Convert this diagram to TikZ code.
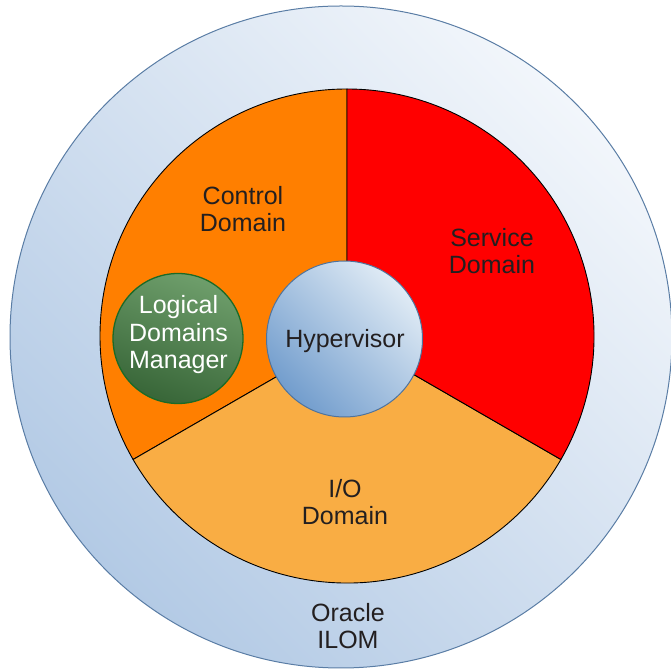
\documentclass[tikz,border=0pt]{standalone}
\usepackage{fontspec}
\setmainfont{Liberation Sans}
\begin{document}
\begin{tikzpicture}[x=1pt,y=1pt,
  label text/.style={text=textGray, align=center, font=\fontsize{25}{27.5}\selectfont, inner sep=0pt},
  sector/.style={draw=black, line width=0.9pt, line join=round}]
\definecolor{outerLight}{HTML}{F2F6FB}
\definecolor{outerDark}{HTML}{B3CAE5}
\definecolor{outerEdge}{HTML}{5A7DA5}
\definecolor{hypLight}{HTML}{E0EBF5}
\definecolor{hypDark}{HTML}{729DCD}
\definecolor{hypEdge}{HTML}{4F739C}
\definecolor{ldmLight}{HTML}{6E9E6B}
\definecolor{ldmDark}{HTML}{386638}
\definecolor{ldmEdge}{HTML}{1B6A27}
\definecolor{ctrlOrange}{HTML}{FF7F00}
\definecolor{servRed}{HTML}{FF0000}
\definecolor{ioOrange}{HTML}{F9AD44}
\definecolor{textGray}{HTML}{231F20}

\useasboundingbox (0,0) rectangle (670,672);

% outer ring (Oracle ILOM)
\shade[top color=outerLight, bottom color=outerDark, shading angle=-45] (341,335) circle (331);
\draw[outerEdge, line width=1pt] (341,335) circle (331);

% the three domain sectors
\coordinate (c) at (347,336);
\path[sector, fill=ctrlOrange] (c) -- ++(90:247) arc[start angle=90, end angle=210, radius=247] -- cycle;
\path[sector, fill=ioOrange] (c) -- ++(210:247) arc[start angle=210, end angle=330, radius=247] -- cycle;
\path[sector, fill=servRed] (c) -- ++(-30:247) arc[start angle=-30, end angle=90, radius=247] -- cycle;

% hypervisor at the core
\node[circle, inner sep=0pt, minimum size=156, draw=hypEdge, line width=1pt,
      top color=hypLight, bottom color=hypDark, shading angle=-45,
      label text] (hyp) at (344.5,333) {};
\node[label text] (hyptext) at (345,331) {Hypervisor};

% logical domains manager inside the control domain
\node[circle, inner sep=0pt, minimum size=130, draw=ldmEdge, line width=1.3pt,
      top color=ldmLight, bottom color=ldmDark, shading angle=-20] (ldm) at (178,333.5) {};
\node[label text, text=white] (ldmtext) at (178.5,337) {Logical\\Domains\\Manager};

% domain labels
\node[label text] (ctrl) at (243,463) {Control\\Domain};
\node[label text] (serv) at (492,421) {Service\\Domain};
\node[label text] (io) at (345,170) {I/O\\Domain};
\node[label text] (ilom) at (348,46) {Oracle\\ILOM};
\end{tikzpicture}
\end{document}
